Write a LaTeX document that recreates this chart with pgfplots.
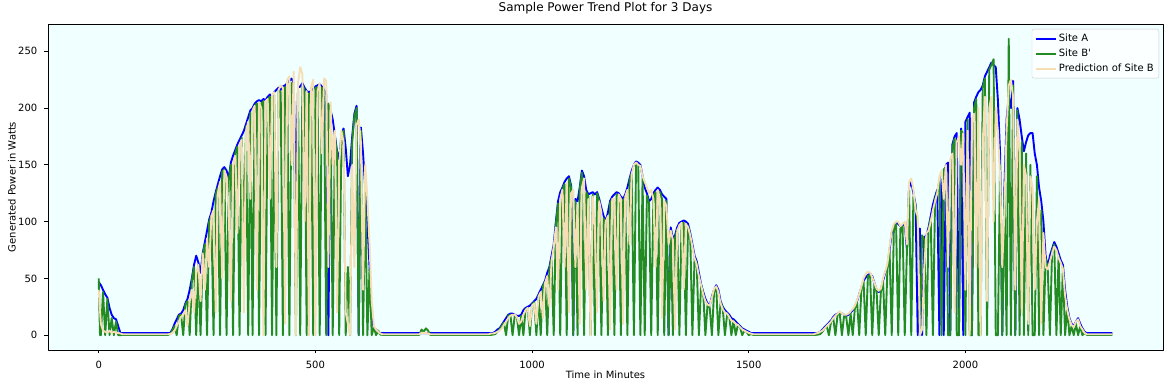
\documentclass[border=0pt]{standalone}
\usepackage{fontspec}
\setmainfont{DejaVu Sans}
\usepackage{pgfplots}
\pgfplotsset{compat=1.18}
\usepackage{pgfplotstable}
\definecolor{azure}{HTML}{F0FFFF}
\definecolor{wheat}{HTML}{F5DEB3}
\definecolor{forestgreen}{HTML}{228B22}
\definecolor{legendgray}{HTML}{CCCCCC}
\pgfplotstableread{
x A B P
0 47 50 40
3 45 0 22
5 44 0 10
10 40 38 4
15 36 0 3
20 33 32 2
25 24 0 4
30 18 15 2
35 15 0 3
40 14 12 2
45 8 0 2
50 2 0 1.5
55 1.8 0.3 0.8
160 1.8 0.3 0.8
165 2 1 1
170 5 4 2
175 10 8 4
180 14 0 8
185 18 17 12
190 19 18 16
195 22 0 18
200 28 27 22
205 32 30 8
210 40 0 30
215 50 48 40
220 62 60 20
225 70 0 55
230 64 62 62
235 55 0 30
240 72 70 72
245 82 80 40
250 92 0 85
255 102 100 60
260 108 105 105
265 118 0 110
270 126 124 20
275 133 130 125
280 140 0 135
285 146 144 50
290 148 146 145
295 145 0 140
300 138 136 110
305 152 150 30
310 158 0 150
315 163 160 158
320 168 166 90
325 172 0 168
330 176 174 172
335 180 90 20
340 186 184 180
345 192 0 188
350 198 196 120
355 200 0 198
360 204 202 202
365 206 204 40
370 207 0 205
375 206 204 200
380 208 206 0
385 207 0 206
390 210 208 208
395 212 210 120
400 210 0 212
405 214 212 214
410 216 0 60
415 218 216 216
420 216 214 220
425 219 0 218
430 220 218 10
435 222 220 225
440 224 0 228
445 226 222 150
450 222 220 232
455 120 0 0
460 218 216 222
465 219 0 236
470 222 220 230
475 218 216 100
480 215 0 215
485 214 212 0
490 215 214 218
495 217 0 225
500 219 218 0
505 220 218 215
510 221 0 222
515 219 218 160
520 216 214 226
525 212 0 224
530 0 204 60
535 198 196 205
540 190 0 150
545 176 175 180
550 162 160 20
555 155 0 150
560 176 175 180
565 182 180 170
570 165 0 20
575 140 60 10
580 150 0 0
585 175 170 150
590 195 193 60
595 202 200 185
600 0 0 190
605 183 180 170
610 160 0 40
615 130 128 150
620 100 0 120
625 60 58 80
630 15 0 30
635 6 7 8
640 5 0 5
645 3 4 3
650 1.8 0.5 1.5
655 1.8 0.3 0.8
740 1.8 0.3 0.8
745 1.8 5 2
750 1.8 3 2
755 1.8 6 2
760 1.8 4 1.5
765 1.8 0.3 0.8
900 1.8 0.3 0.8
905 1.8 0.3 1.5
910 2 0.5 1.5
915 3 1 2
920 5 3 3
925 6 5 4
930 9 8 6
935 12 11 9
940 15 0 12
945 18 17 15
950 19 18 17
955 19 0 18
960 18 17 18
965 17 16 16
970 17 0 10
975 18 17 12
980 22 0 18
985 24 23 22
990 25 24 24
995 26 0 8
1000 28 27 26
1005 30 29 28
1010 32 0 10
1015 36 35 34
1020 40 0 38
1025 44 43 15
1030 48 47 46
1035 55 0 52
1040 60 58 25
1045 70 68 65
1050 80 0 78
1055 100 98 95
1060 118 116 40
1065 126 0 120
1070 130 128 128
1075 135 133 60
1080 138 0 134
1085 140 138 20
1090 132 130 125
1095 0 0 128
1100 120 118 60
1105 118 0 115
1110 130 128 10
1115 145 143 130
1120 140 0 138
1125 128 126 40
1130 124 122 120
1135 125 0 0
1140 126 124 122
1145 124 0 95
1150 126 125 20
1155 120 118 118
1160 112 0 108
1165 105 103 30
1170 100 98 100
1175 108 0 105
1180 118 116 5
1185 122 120 120
1190 124 0 120
1195 126 124 40
1200 125 123 124
1205 122 0 120
1210 120 118 10
1215 124 122 122
1220 130 0 128
1225 138 136 80
1230 145 143 142
1235 150 0 150
1240 153 152 152
1245 152 150 150
1250 150 0 149
1255 140 138 140
1260 130 0 135
1265 125 123 130
1270 118 116 125
1275 120 0 128
1280 125 122 120
1285 128 126 60
1290 130 0 128
1295 128 126 120
1300 124 120 15
1305 122 0 118
1310 120 118 114
1315 0 0 80
1320 95 92 92
1325 85 0 84
1330 88 86 5
1335 95 93 92
1340 99 0 97
1345 100 98 99
1350 101 99 40
1355 100 0 98
1360 98 96 95
1365 90 88 88
1370 80 0 78
1375 70 68 68
1380 65 63 62
1385 55 0 52
1390 45 44 44
1395 38 37 36
1400 32 0 30
1405 28 27 27
1410 26 24 26
1415 34 0 33
1420 40 38 41
1425 44 42 43
1430 40 0 38
1435 30 29 28
1440 25 24 23
1445 22 0 20
1450 20 18 19
1455 18 17 16
1460 15 0 13
1465 14 13 12
1470 12 0 10
1475 10 9 9
1480 8 7 7
1485 6 0 5
1490 5 4 4
1495 4 3 3
1500 3 0 2
1505 2 1 1.5
1510 1.8 0.3 0.8
1650 1.8 0.3 0.8
1655 1.8 0.3 1.5
1660 2 0.5 2
1665 3 1 3
1670 5 3 4
1675 7 6 6
1680 9 8 8
1685 11 0 10
1690 13 12 12
1695 16 15 15
1700 18 0 17
1705 19 18 19
1710 20 19 21
1715 19 0 19
1720 18 17 18
1725 17 16 18
1730 18 0 19
1735 20 19 21
1740 22 0 23
1745 25 24 26
1750 30 29 31
1755 36 0 36
1760 42 41 43
1765 48 47 50
1770 51 0 54
1775 53 52 56
1780 54 53 55
1785 52 0 51
1790 46 45 46
1795 40 39 41
1800 38 0 39
1805 40 39 41
1810 48 47 50
1815 55 0 56
1820 60 58 63
1825 75 74 78
1830 90 0 92
1835 96 95 98
1840 99 98 100
1845 98 0 100
1850 96 94 96
1855 97 96 98
1860 98 0 100
1865 75 74 80
1870 130 128 135
1875 135 0 138
1880 125 122 128
1885 115 113 110
1890 0 98 105
1895 94 0 0
1900 0 88 5
1905 86 84 60
1910 88 0 90
1915 95 93 92
1920 105 103 100
1925 115 0 110
1930 122 120 118
1935 128 126 125
1940 0 136 140
1945 142 0 145
1950 0 146 120
1955 150 148 150
1960 152 0 60
1965 0 0 155
1970 168 165 160
1975 175 173 20
1980 178 0 170
1985 0 0 175
1990 182 180 150
1995 0 178 178
2000 188 0 40
2005 192 190 180
2010 196 0 0
2015 0 0 190
2020 205 200 195
2025 210 208 60
2030 214 0 200
2035 216 0 0
2040 220 218 170
2045 228 226 210
2050 232 0 30
2055 236 234 200
2060 240 238 210
2065 238 243 100
2070 236 0 200
2075 207 0 180
2080 160 150 140
2085 0 0 60
2090 130 125 110
2095 190 0 180
2100 210 261 220
2105 200 0 225
2110 224 220 210
2115 0 0 40
2120 200 198 190
2125 190 0 160
2130 175 170 20
2135 162 0 150
2140 170 160 140
2145 176 0 10
2150 178 150 140
2155 178 0 130
2160 160 0 40
2165 150 140 100
2170 130 0 120
2175 118 110 10
2180 100 0 90
2185 70 68 60
2190 60 58 58
2195 70 0 65
2200 76 74 72
2205 82 80 78
2210 78 0 75
2215 72 70 68
2220 66 0 64
2225 62 60 58
2230 40 0 35
2235 25 24 22
2240 15 0 14
2245 10 8 9
2250 8 0 7
2255 12 10 12
2260 15 0 14
2265 10 8 8
2270 6 0 5
2275 3 2 2
2280 1.8 0.3 0.8
2339 1.8 0.3 0.8
}\powerdata

\begin{document}
\begin{tikzpicture}
\useasboundingbox (-48pt,-32pt) rectangle (1118pt,350pt);
\begin{axis}[
  at={(0pt,0pt)}, anchor=south west,
  scale only axis, width=1115pt, height=326pt,
  xmin=-117, xmax=2456, ymin=-13.05, ymax=274.05,
  axis background/.style={fill=azure},
  axis line style={line width=0.8pt, black},
  tick style={line width=0.8pt, black},
  tick align=outside, major tick length=3.5pt,
  tick pos=left,
  xtick={0,500,1000,1500,2000},
  ytick={0,50,100,150,200,250},
  minor tick num=0,
  /pgf/number format/assume math mode=true,
  /pgf/number format/1000 sep={},
  ticklabel style={font=\fontsize{10}{12}\selectfont},
  xticklabel style={inner sep=0pt, anchor=north, yshift=-7pt},
  yticklabel style={inner sep=0pt, anchor=east, xshift=-7pt},
  title={Sample Power Trend Plot for 3 Days},
  title style={font=\fontsize{12}{14}\selectfont, at={(axis description cs:0.5,1.0184)}, anchor=base, inner sep=0pt},
  xlabel={Time in Minutes},
  ylabel={Generated Power in Watts},
  every axis x label/.style={at={(axis description cs:0.5,-0.0767)}, anchor=center, font=\fontsize{10}{12}\selectfont},
  every axis y label/.style={at={(axis description cs:-0.0323,0.5)}, rotate=90, anchor=center, font=\fontsize{10}{12}\selectfont},
  legend image code/.code={\draw[#1] (0pt,0pt) -- (20pt,0pt);},
  legend cell align=left,
  legend style={at={(axis description cs:0.9964,0.9847)}, anchor=north east,
    draw=legendgray, rounded corners=2pt, fill=white, fill opacity=0.8, text opacity=1,
    font=\fontsize{10}{12}\selectfont, inner xsep=3pt, inner ysep=2pt,
    nodes={inner sep=2pt, text height=8pt, text depth=3pt},
    /tikz/every even column/.append style={column sep=3pt}},
  line join=round,
]
\addplot[blue, line width=1.9pt, no markers] table[x=x, y=A] {\powerdata};
\addlegendentry{Site A}
\addplot[forestgreen, line width=1.9pt, no markers] table[x=x, y=B] {\powerdata};
\addlegendentry{Site B\textquotesingle}
\addplot[wheat, line width=1.9pt, no markers] table[x=x, y=P] {\powerdata};
\addlegendentry{Prediction of Site B}
\end{axis}
\end{tikzpicture}
\end{document}
